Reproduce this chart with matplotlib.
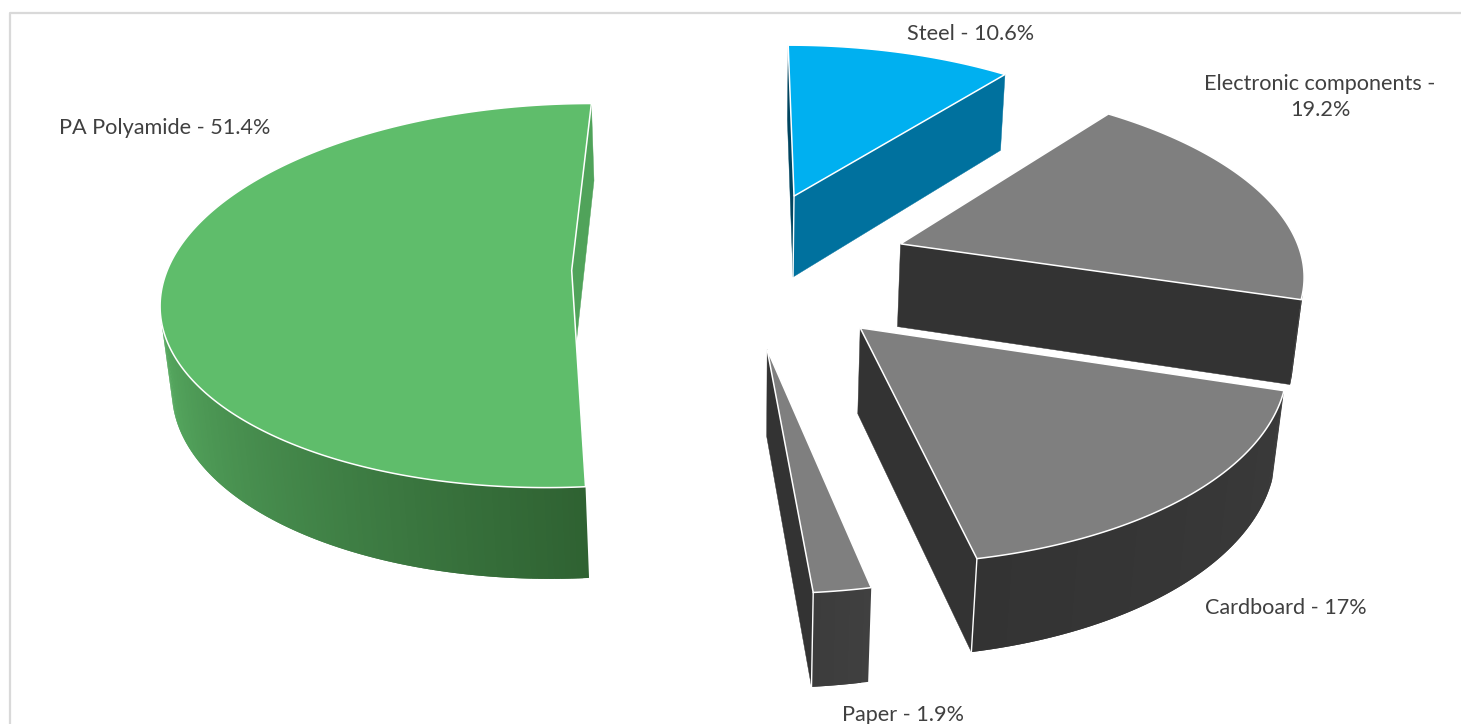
import numpy as np
import matplotlib
matplotlib.use('Agg')
import matplotlib.pyplot as plt
from matplotlib.colors import to_rgb

# clockwise from 12 o'clock
names = ['Steel', 'Electronic components', 'Cardboard', 'Paper', 'PA Polyamide']
shares = [10.6, 19.2, 17, 1.9, 51.4]
top_colors = ['#00b0f0', '#7f7f7f', '#7f7f7f', '#7f7f7f', '#5fbd6b']
end_colors = ['#004560', '#333333', '#333333', '#333333', '#50a35a']
side_colors = ['#00719e', '#333333', '#333333', '#333333', '#50a35a']
wall_light = ['#00719e', '#333333', '#3a3a3a', '#404040', '#2f6232']
wall_dark = ['#00719e', '#333333', '#333333', '#3c3c3c', '#57ab61']
label_pos = [(971, 34), (1320, 97), (1286, 608), (903, 715), (165, 128)]

explode = 0.42
plt.rcParams['font.family'] = ['Lato', 'DejaVu Sans']

# perspective of the Excel 3D pie, in image pixels
vp_x, horizon = 741.4, -1167
scale_x, scale_y, depth, drop, drop_w = 403.5, 1434, 0.131, 114, 0.02


def project(x, y, z=0):
    w = 1 + depth * y + drop_w * z
    return vp_x + scale_x * x / w, horizon + (scale_y + drop * z) / w


def is_front(p, p2, q2):
    a = (p2[0] - p[0], p2[1] - p[1])
    b = (q2[0] - p2[0], q2[1] - p2[1])
    return a[0] * b[1] - a[1] * b[0] < 0


fig = plt.figure(figsize=(14.61, 7.24), dpi=100)
ax = fig.add_axes([0, 0, 1, 1])
ax.set_xlim(0, 1461)
ax.set_ylim(724, 0)
ax.axis('off')

ax.plot([9.5, 9.5, 1461], [724, 13, 13], color='#d9d9d9', lw=1.6)

edges = np.cumsum([0] + shares) / sum(shares) * 2 * np.pi
slices = []
for i in range(len(shares)):
    mid = (edges[i] + edges[i + 1]) / 2
    slices.append((explode * np.cos(mid), i, mid))

# far slices first
for cy, i, mid in sorted(slices, reverse=True):
    cx = explode * np.sin(mid)
    th = np.linspace(edges[i], edges[i + 1], max(3, int(shares[i] * 5)))
    rim_x = cx + np.sin(th)
    rim_y = cy + np.cos(th)
    top = [project(cx, cy)] + [project(a, b) for a, b in zip(rim_x, rim_y)]
    low = [project(cx, cy, 1)] + [project(a, b, 1) for a, b in zip(rim_x, rim_y)]

    # start face
    start_vis = is_front(top[0], top[1], low[1])
    if start_vis:
        ax.fill([top[0][0], top[1][0], low[1][0], low[0][0]],
                [top[0][1], top[1][1], low[1][1], low[0][1]],
                color=end_colors[i], lw=0.3)
    # end face
    end_vis = is_front(top[-1], top[0], low[0])
    if end_vis:
        ax.fill([top[-1][0], top[0][0], low[0][0], low[-1][0]],
                [top[-1][1], top[0][1], low[0][1], low[-1][1]],
                color=side_colors[i], lw=0.3)

    # outer wall, strips overlap the next one so no seams show
    vis = [j for j in range(1, len(top) - 1) if is_front(top[j], top[j + 1], low[j + 1])]
    c1, c2 = np.array(to_rgb(wall_light[i])), np.array(to_rgb(wall_dark[i]))
    for n, j in enumerate(vis):
        t = n / max(1, len(vis) - 1)
        c = c1 + (c2 - c1) * t
        k = min(j + 2, vis[-1] + 1)
        ax.fill([top[j][0], top[j + 1][0], top[k][0], low[k][0], low[j + 1][0], low[j][0]],
                [top[j][1], top[j + 1][1], top[k][1], low[k][1], low[j + 1][1], low[j][1]],
                color=c, lw=0)

    # white corners between two visible faces
    wide = bool(vis) and abs(top[vis[0]][0] - top[vis[-1] + 1][0]) > 15
    if start_vis and wide and vis[0] == 1:
        ax.plot([top[1][0], low[1][0]], [top[1][1], low[1][1]], color='white', lw=1)
    if end_vis and wide and vis[-1] == len(top) - 2:
        ax.plot([top[-1][0], low[-1][0]], [top[-1][1], low[-1][1]], color='white', lw=1)
    if start_vis and end_vis:
        ax.plot([top[0][0], low[0][0]], [top[0][1], low[0][1]], color='white', lw=1)

    ax.fill([p[0] for p in top], [p[1] for p in top], facecolor=top_colors[i],
            edgecolor='white', lw=1.1, joinstyle='miter')

for name, v, (x, y) in zip(names, shares, label_pos):
    txt = f'{name} - {v}%'
    if name.startswith('Electronic'):
        txt = f'{name} -\n{v}%'
    ax.text(x, y, txt, ha='center', va='center', fontsize=15.6, color='#404040',
            linespacing=1.4)

plt.savefig('out.png', dpi=100)
